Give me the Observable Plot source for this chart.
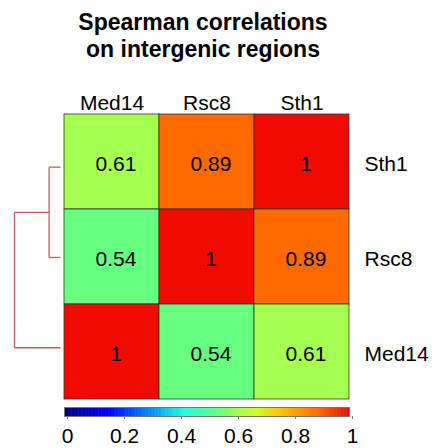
<!DOCTYPE html>
<html>
<head>
<meta charset="utf-8">
<script src="https://cdn.jsdelivr.net/npm/d3@7"></script>
<script src="https://cdn.jsdelivr.net/npm/@observablehq/plot@0.6"></script>
<style>
  html, body { margin: 0; padding: 0; background: #fff; }
  #wrap { position: relative; width: 435px; height: 448px; font-family: "Liberation Sans", Arial, sans-serif; }
  #title { position: absolute; left: 0; top: 9px; width: 406px; text-align: center; font-weight: bold; font-size: 23px; line-height: 27px; color: #000; }
  .layer { position: absolute; left: 0; }
</style>
</head>
<body>
<div id="wrap">
  <div id="title">Spearman correlations<br>on intergenic regions</div>
  <div id="dendro" class="layer" style="top:0"></div>
  <div id="heat" class="layer" style="top:0"></div>
  <div id="bar" class="layer" style="top:400px"></div>
</div>
<script>
// ---- data ----
const rows = ["Sth1", "Rsc8", "Med14"];        // top to bottom
const cols = ["Med14", "Rsc8", "Sth1"];        // left to right
const valSth1  = [0.61, 0.89, 1];
const valRsc8  = [0.54, 1, 0.89];
const valMed14 = [1, 0.54, 0.61];
const barTicks = [0, 0.2, 0.4, 0.6, 0.8, 1];
// dendrogram (row order index, merge heights = 1 - correlation)
const dendroLinks = [
  // inner node: Sth1 + Rsc8 at height 0.11
  {x1: 0, y1: 0.5, x2: 0.11, y2: 0.5},
  {x1: 0, y1: 1.5, x2: 0.11, y2: 1.5},
  {x1: 0.11, y1: 0.5, x2: 0.11, y2: 1.5},
  // root: (Sth1,Rsc8) + Med14 at height 0.445
  {x1: 0.11, y1: 1.0, x2: 0.445, y2: 1.0},
  {x1: 0, y1: 2.5, x2: 0.445, y2: 2.5},
  {x1: 0.445, y1: 1.0, x2: 0.445, y2: 2.5}
];

const matrix = {Sth1: valSth1, Rsc8: valRsc8, Med14: valMed14};
const cells = [];
rows.forEach(r => cols.forEach((c, j) => cells.push({row: r, col: c, value: matrix[r][j]})));

// jet-like colour ramp
const stops  = [0, 0.15, 0.3, 0.42, 0.54, 0.61, 0.67, 0.76, 0.89, 1];
const colors = ["#00007f", "#0000ff", "#0090ff", "#20ffd8", "#66ff80", "#a4ff50", "#d0ff28", "#ffc000", "#ff6a00", "#f00a00"];
const ramp = d3.scaleLinear().domain(stops).range(colors).interpolate(d3.interpolateRgb);
const colorScale = {type: "linear", domain: [0, 1], interpolate: t => ramp(t)};

const font = "Liberation Sans, Arial, sans-serif";

// ---- heatmap ----
const heat = Plot.plot({
  width: 435, height: 448,
  marginLeft: 64, marginRight: 86, marginTop: 114, marginBottom: 49,
  style: {fontFamily: font, background: "transparent", color: "#000"},
  x: {domain: cols, padding: 0, axis: null},
  y: {domain: rows, padding: 0, axis: null},
  color: colorScale,
  marks: [
    Plot.cell(cells, {x: "col", y: "row", fill: "value", stroke: "#333", strokeWidth: 0.8, inset: 0}),
    Plot.text(cells, {x: "col", y: "row", text: d => String(d.value), fontSize: 21, dx: 4, dy: 2, fill: "#000"}),
    Plot.axisX({anchor: "top", tickSize: 0, tickPadding: 5, fontSize: 21, label: null}),
    Plot.axisY({anchor: "right", tickSize: 0, tickPadding: 15, fontSize: 21, label: null, dy: 2})
  ]
});
document.getElementById("heat").appendChild(heat);

// ---- dendrogram ----
const dendro = Plot.plot({
  width: 64, height: 448,
  marginLeft: 14, marginRight: 4, marginTop: 121.5, marginBottom: 55.6,
  style: {background: "transparent"},
  x: {domain: [0.445, 0], axis: null},
  y: {domain: [0, 3], reverse: true, axis: null},
  marks: [
    Plot.link(dendroLinks, {x1: "x1", y1: "y1", x2: "x2", y2: "y2", stroke: "#c95a5e", strokeWidth: 1.3})
  ]
});
document.getElementById("dendro").appendChild(dendro);

// ---- colour bar ----
const steps = d3.range(0, 200).map(i => ({a: i / 200, b: (i + 1) / 200}));
const bar = Plot.plot({
  width: 435, height: 48,
  marginLeft: 64, marginRight: 86, marginTop: 7, marginBottom: 32,
  style: {fontFamily: font, background: "transparent", color: "#000"},
  x: {domain: [0, 1]},
  y: {domain: [0, 1], axis: null},
  color: colorScale,
  marks: [
    Plot.rect(steps, {x1: "a", x2: d => d.b + 0.002, y1: 0, y2: 1, fill: "a"}),
    Plot.frame({stroke: "#777", strokeWidth: 1}),
    Plot.axisX({ticks: barTicks, tickSize: 3, tickPadding: 9, fontSize: 21, tickFormat: d => String(d), label: null, stroke: "#777", dx: 3})
  ]
});
document.getElementById("bar").appendChild(bar);
</script>
</body>
</html>
